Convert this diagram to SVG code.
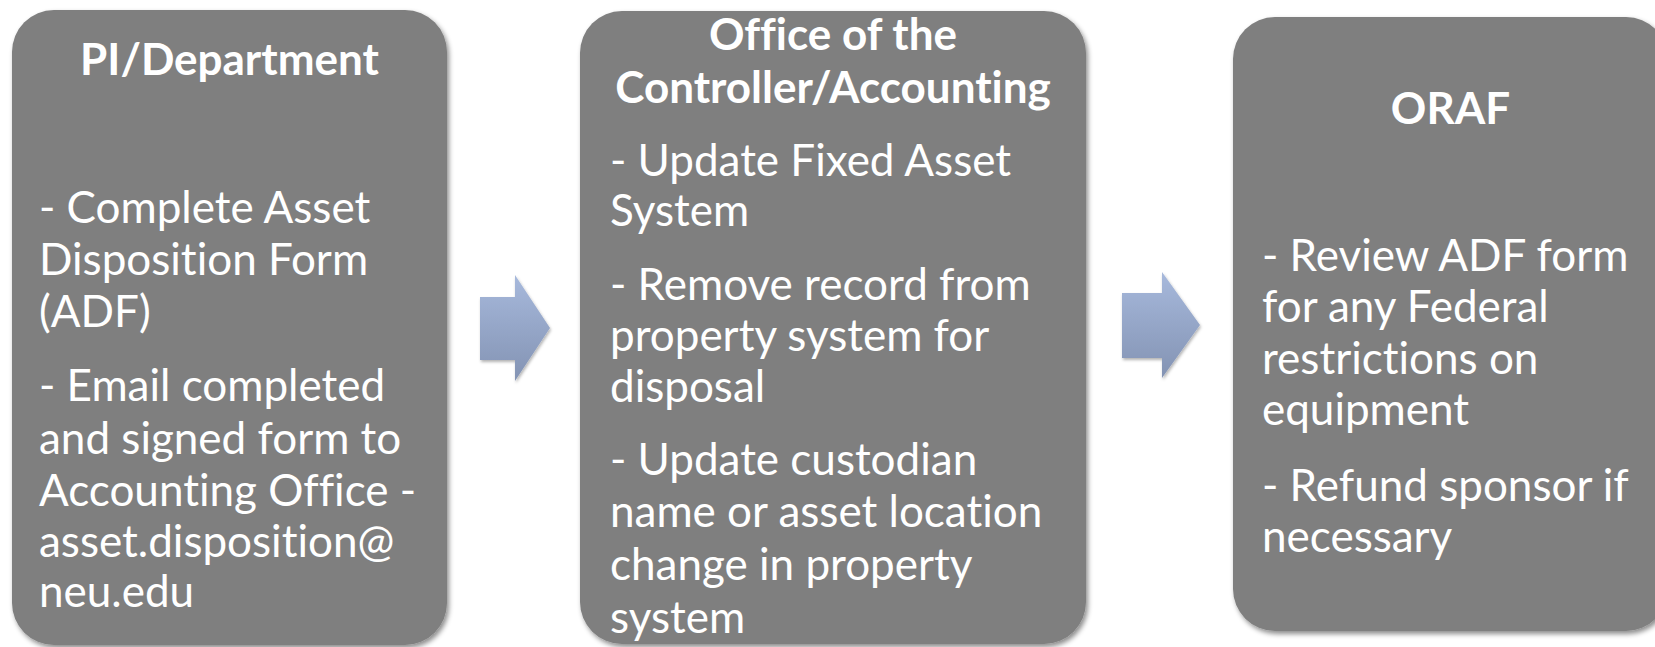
<svg xmlns="http://www.w3.org/2000/svg" width="1655" height="647" viewBox="0 0 1655 647">
<style>
.box{fill:#7f7f7f;filter:url(#sh)}
.t{font-family:Lato,"Open Sans","Liberation Sans",sans-serif;fill:#ffffff;font-size:44px;font-variant-ligatures:none;font-feature-settings:"liga" 0,"clig" 0}
.h{font-weight:bold;text-anchor:middle}
.arr{fill:url(#ag);filter:url(#ash)}
</style>
<defs>
<filter id="sh" x="-10%" y="-10%" width="120%" height="120%">
<feDropShadow dx="2" dy="3" stdDeviation="2.5" flood-color="#000" flood-opacity="0.45"/>
</filter>
<filter id="ash" x="-20%" y="-20%" width="140%" height="140%">
<feDropShadow dx="1" dy="2" stdDeviation="1.5" flood-color="#000" flood-opacity="0.3"/>
</filter>
<linearGradient id="ag" x1="0" y1="0" x2="0" y2="1">
<stop offset="0" stop-color="#a7b9dc"/>
<stop offset="1" stop-color="#8393b3"/>
</linearGradient>
</defs>
<rect width="1655" height="647" fill="#ffffff"/>
<g id="connectors">
<polygon class="arr" points="480,297 515,297 515,275 550,328 515,381 515,360 480,360"/>
<polygon class="arr" points="1122,293 1162,293 1162,272 1200,325 1162,378 1162,358 1122,358"/>
</g>
<g id="node-pi">
<rect class="box" x="12" y="10" width="435" height="635" rx="42" ry="42"/>
<text class="t h" x="229.5" y="75">PI/Department</text>
<text class="t">
<tspan x="39" y="222.5">- Complete Asset</tspan>
<tspan x="39" y="275">Disposition Form</tspan>
<tspan x="39" y="326.5">(ADF)</tspan>
<tspan x="39" y="401">- Email completed</tspan>
<tspan x="39" y="453.5">and signed form to</tspan>
<tspan x="39" y="506">Accounting Office -</tspan>
<tspan x="39" y="556.5">asset.disposition@</tspan>
<tspan x="39" y="607">neu.edu</tspan>
</text>
</g>
<g id="node-controller">
<rect class="box" x="580" y="11" width="506" height="633" rx="42" ry="42"/>
<text class="t h" x="833" y="50">Office of the</text>
<text class="t h" x="833" y="102.5">Controller/Accounting</text>
<text class="t">
<tspan x="610" y="176">- Update Fixed Asset</tspan>
<tspan x="610" y="225.5">System</tspan>
<tspan x="610" y="300">- Remove record from</tspan>
<tspan x="610" y="350.5">property system for</tspan>
<tspan x="610" y="402">disposal</tspan>
<tspan x="610" y="474.5">- Update custodian</tspan>
<tspan x="610" y="527">name or asset location</tspan>
<tspan x="610" y="579.5">change in property</tspan>
<tspan x="610" y="633">system</tspan>
</text>
</g>
<g id="node-oraf">
<rect class="box" x="1233" y="17" width="435" height="614" rx="42" ry="42"/>
<text class="t h" x="1450.5" y="124">ORAF</text>
<text class="t">
<tspan x="1262" y="270.5">- Review ADF form</tspan>
<tspan x="1262" y="322">for any Federal</tspan>
<tspan x="1262" y="373.5">restrictions on</tspan>
<tspan x="1262" y="425">equipment</tspan>
<tspan x="1262" y="500.5">- Refund sponsor if</tspan>
<tspan x="1262" y="552">necessary</tspan>
</text>
</g>
</svg>
